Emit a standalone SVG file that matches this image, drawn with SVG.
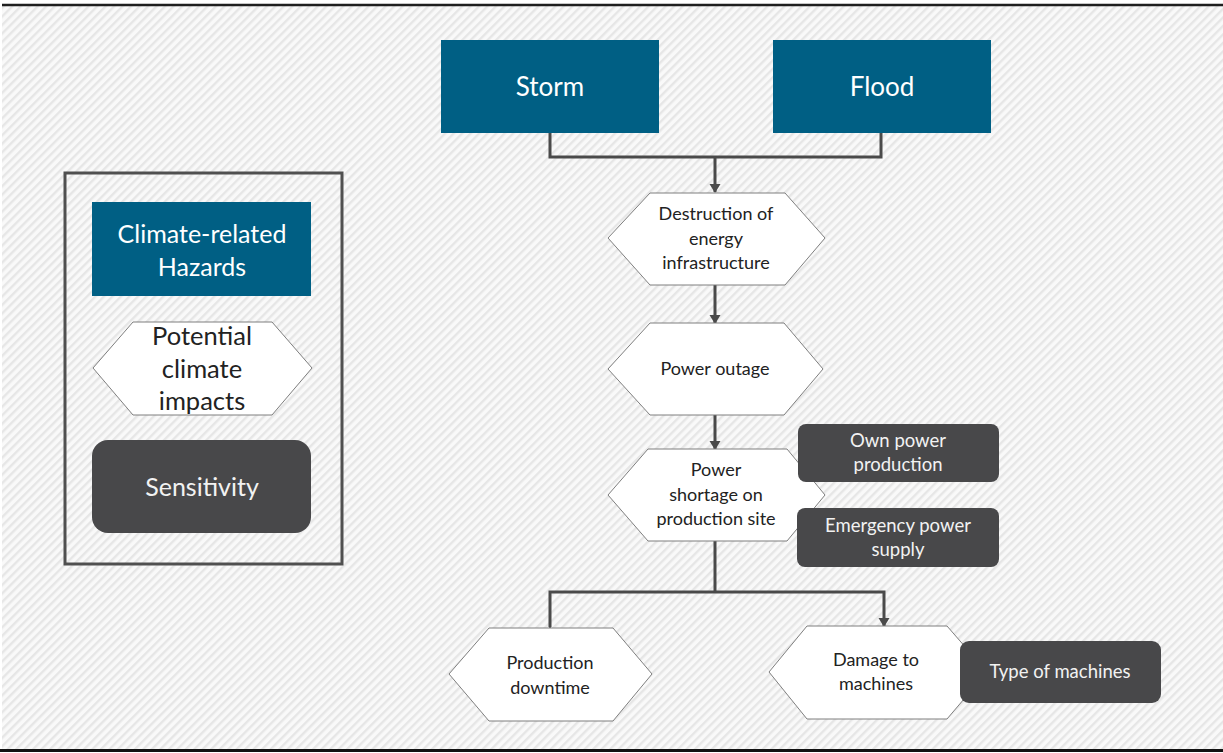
<svg xmlns="http://www.w3.org/2000/svg" width="1223" height="753" viewBox="0 0 1223 753">
<defs>
<pattern id="hatch" width="6" height="6" patternUnits="userSpaceOnUse" patternTransform="rotate(45)">
<rect width="6" height="6" fill="#f9f9f9"/>
<rect width="2.4" height="6" fill="#e6e6e6"/>
</pattern>
<marker id="arr" markerWidth="12" markerHeight="12" refX="8" refY="5.5" orient="auto" markerUnits="userSpaceOnUse">
<path d="M0,0 L9,5.5 L0,11 Z" fill="#4a4a4a"/>
</marker>
<style>
.haz{fill:#005f84;}
.hex{fill:#ffffff;stroke:#7f7f7f;stroke-width:1;}
.sen{fill:#48484a;}
.con{fill:none;stroke:#4a4a4a;stroke-width:3;}
text{font-family:Lato,"Liberation Sans",sans-serif;text-anchor:middle;}
.th{fill:#ffffff;font-size:25px;}
.tx{fill:#222222;font-size:18px;}
.ts{fill:#f2f2f2;font-size:18.5px;}
</style>
</defs>
<rect x="0" y="0" width="1223" height="753" fill="#ffffff"/>
<rect x="2" y="6" width="1221" height="743" fill="url(#hatch)"/>
<line x1="2" y1="5" x2="1223" y2="5" stroke="#1f1f1f" stroke-width="2.5"/>
<line x1="0" y1="750.5" x2="1223" y2="750.5" stroke="#111111" stroke-width="3"/>

<g id="legend">
<rect x="65" y="173" width="277" height="391" fill="none" stroke="#505050" stroke-width="3"/>
<rect class="haz" x="92" y="202" width="219" height="94"/>
<text class="th" x="202" y="243">Climate-related</text>
<text class="th" x="202" y="276">Hazards</text>
<polygon class="hex" points="93,368 133,322 272,322 312,368 272,415 133,415"/>
<text class="tx" style="font-size:25.5px" x="202" y="345">Potential</text>
<text class="tx" style="font-size:25.5px" x="202" y="378">climate</text>
<text class="tx" style="font-size:25.5px" x="202" y="410">impacts</text>
<rect class="sen" x="92" y="440" width="219" height="93" rx="16"/>
<text class="th" style="fill:#f2f2f2" x="202" y="496">Sensitivity</text>
</g>

<g id="connectors">
<polyline class="con" points="550,133 550,157 881,157 881,133"/>
<line class="con" x1="715" y1="157" x2="715" y2="192" marker-end="url(#arr)"/>
<line class="con" x1="715" y1="285" x2="715" y2="323" marker-end="url(#arr)"/>
<line class="con" x1="715" y1="415" x2="715" y2="449" marker-end="url(#arr)"/>
<line class="con" x1="715" y1="541" x2="715" y2="592"/>
<polyline class="con" points="550,627 550,592 884,592 884,626" marker-start="url(#arr)" marker-end="url(#arr)"/>
</g>

<g id="storm">
<rect class="haz" x="441" y="40" width="218" height="93"/>
<text class="th" style="font-size:26px" x="550" y="96">Storm</text>
</g>
<g id="flood">
<rect class="haz" x="773" y="40" width="218" height="93"/>
<text class="th" style="font-size:26px" x="882" y="96">Flood</text>
</g>

<g id="destruction">
<polygon class="hex" points="608,238 650,193 785,193 825,238 785,285 650,285"/>
<text class="tx" x="716" y="220">Destruction of</text>
<text class="tx" x="716" y="245">energy</text>
<text class="tx" x="716" y="269">infrastructure</text>
</g>

<g id="outage">
<polygon class="hex" points="608,369 650,323 784,323 823,369 784,415 650,415"/>
<text class="tx" x="715" y="375">Power outage</text>
</g>

<g id="shortage">
<polygon class="hex" points="608,495 648,449 787,449 825,495 787,541 648,541"/>
<text class="tx" x="716" y="476">Power</text>
<text class="tx" x="716" y="501">shortage on</text>
<text class="tx" x="716" y="525">production site</text>
</g>

<g id="own-power">
<rect class="sen" x="798" y="424" width="201" height="58" rx="8"/>
<text class="ts" x="898" y="447">Own power</text>
<text class="ts" x="898" y="471">production</text>
</g>

<g id="emergency">
<rect class="sen" x="797" y="508" width="202" height="59" rx="8"/>
<text class="ts" x="898" y="532">Emergency power</text>
<text class="ts" x="898" y="556">supply</text>
</g>

<g id="downtime">
<polygon class="hex" points="449,674 489,628 613,628 652,674 613,721 489,721"/>
<text class="tx" x="550" y="669">Production</text>
<text class="tx" x="550" y="694">downtime</text>
</g>

<g id="damage">
<polygon class="hex" points="769,672 807,626 947,626 987,672 947,719 807,719"/>
<text class="tx" x="876" y="666">Damage to</text>
<text class="tx" x="876" y="690">machines</text>
</g>

<g id="machines">
<rect class="sen" x="960" y="641" width="201" height="62" rx="9"/>
<text class="ts" x="1060" y="678">Type of machines</text>
</g>
</svg>
